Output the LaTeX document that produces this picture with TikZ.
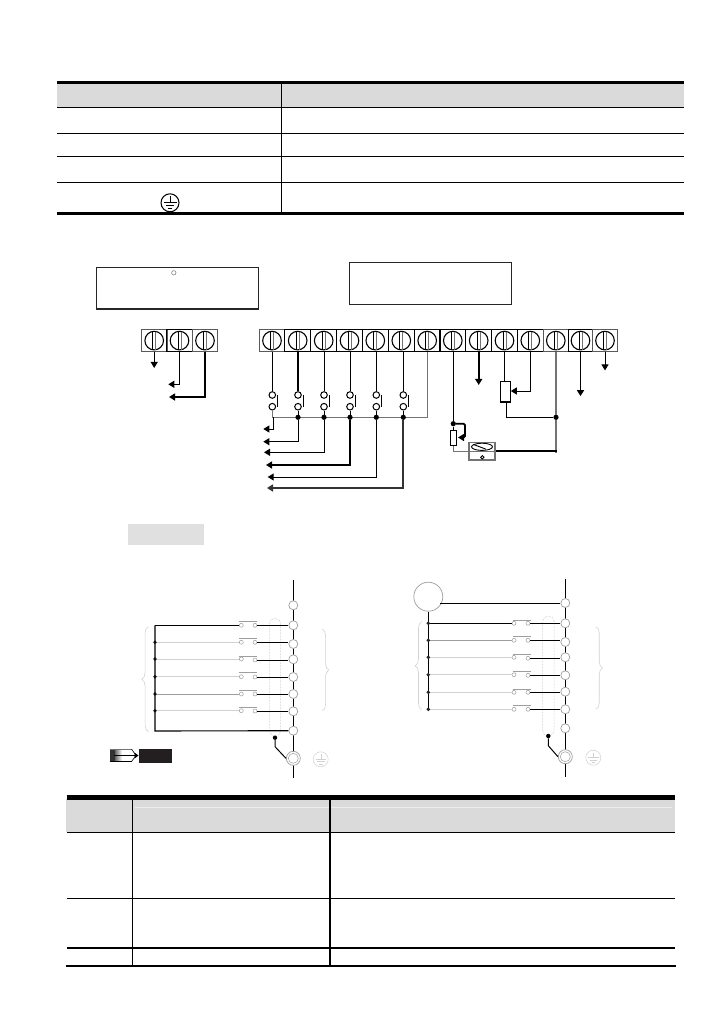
\documentclass[tikz,border=0pt]{standalone}
\usetikzlibrary{arrows.meta,decorations.pathreplacing,calc}
\definecolor{hdr}{gray}{0.855}
\definecolor{lg}{gray}{0.82}
\definecolor{mg}{gray}{0.62}
\definecolor{dg}{gray}{0.45}
\definecolor{ink}{RGB}{35,31,32}
\tikzset{
  rule/.style={line width=#1,black},
  term/.style={draw=black,line width=1pt,inner sep=0,minimum height=22.7pt,
    path picture={
      \draw[line width=1.1pt,black] (path picture bounding box.center) circle (9.3pt);
      \draw[line width=0.8pt,black] ($(path picture bounding box.center)+(-1.5pt,-9pt)$) -- ($(path picture bounding box.center)+(-1.5pt,9pt)$);
      \draw[line width=0.8pt,dg] ($(path picture bounding box.center)+(1.5pt,-9pt)$) -- ($(path picture bounding box.center)+(1.5pt,9pt)$);
    }},
  sw/.style={circle,draw=black,fill=white,line width=1pt,inner sep=0,minimum size=6.6pt},
  dot/.style={circle,fill=black,inner sep=0,minimum size=5.2pt},
  smalldot/.style={circle,fill=black!85,inner sep=0,minimum size=3.8pt},
  wire/.style={line width=1pt,black},
  thick wire/.style={line width=1.8pt,black},
  tip/.style={-{Triangle[length=6pt,width=7pt]}},
  term2/.style={circle,draw=mg,fill=white,line width=0.7pt,inner sep=0,minimum size=9pt},
  small/.style={circle,draw=mg,fill=white,line width=0.5pt,inner sep=0,minimum size=4pt},
  bar/.style={line width=0.5pt,mg},
  capsule/.style={draw=mg!80,densely dotted,line width=0.5pt,rounded corners=5.5pt},
  bracel/.style={draw=lg,line width=0.6pt,decorate,decoration={brace,amplitude=6.5pt}},
  labelbox/.style={draw=black!85,line width=1.2pt},
  gsym/.style={circle,draw=lg,line width=0.5pt,inner sep=0,minimum size=15pt},
}
\begin{document}
\begin{tikzpicture}[x=1pt,y=-1pt]
\useasboundingbox (0,0) rectangle (726,1032);
% ---- top table
\fill[hdr] (57,84) rectangle (684,107);
\draw[rule=3.2pt] (57,82.5) -- (684,82.5);
\draw[rule=1pt] (57,107.3) -- (684,107.3);
\draw[rule=1pt] (57,133.3) -- (684,133.3);
\draw[rule=1pt] (57,156.3) -- (684,156.3);
\draw[rule=1pt] (57,182.6) -- (684,182.6);
\draw[rule=3pt] (57,213.5) -- (684,213.5);
\draw[rule=1pt] (281.5,84) -- (281.5,212);
\node[circle,draw=black,line width=1pt,inner sep=0,minimum size=18pt,fill=white] (gnd) at (170,202.8) {};
\draw[line width=0.8pt] (170,196.5) -- (170,202) (163.5,202) -- (176.5,202) (166,205.2) -- (174,205.2) (168,208.2) -- (172,208.2);
% ---- label boxes
\node[labelbox,minimum width=162pt,minimum height=41.7pt,inner sep=0] (boxL) at (177.4,288.2) {};
\node[labelbox,minimum width=162.4pt,minimum height=42.4pt,inner sep=0] (boxR) at (430.6,283.5) {};
\node[circle,draw=dg,line width=0.5pt,inner sep=0,minimum size=4.4pt] (deg) at (173.8,272.8) {};
% ---- left strip
\foreach \n/\x/\c in {a1/154.2/black!65,a2/179.5/black,a3/205/black!65}
  \node[term,draw=\c,minimum width=25.6pt] (\n) at (\x,340.6) {};
\draw[wire,tip] (a1.south) -- ++(0,15.5);
\coordinate (e2) at (168.3,384.3);
\coordinate (e3) at (169,397);
\draw[wire,tip] (a2.south) |- (e2);
\draw[thick wire,tip] (a3.south) |- (e3);
% ---- main strip
\foreach \n/\x/\w/\c in {1/272/25.4/black!65,2/297.7/26/black,3/323.7/26/black,4/349.5/25.6/black,5/375.3/26/black,6/401.3/26/black,7/427.2/25.7/black,8/452.8/25.7/black,9/478.7/26/black,10/504.5/25.6/black,11/530.3/26/black,12/555.8/25/black!65,13/580.5/24.4/black,14/605/24.6/black!65}
  \node[term,draw=\c,minimum width=\w pt] (t\n) at (\x,340.6) {};
% switches
\foreach \i/\x/\l in {1/272.3/1pt,2/298/1.8pt,3/324/1pt,4/350/1pt,5/376.3/1pt,6/403.3/1pt}{
  \node[sw] (su\i) at (\x,395) {};
  \node[sw] (sd\i) at (\x,406.7) {};
  \draw[line width=\l,black] (su\i |- t\i.south) -- (su\i);
  \draw[wire] (\x+5,395) -- (\x+5,407);
}
\coordinate (bus) at (272.3,417.3);
\draw[line width=1pt,dg] (t7.south) |- (bus) -- (sd1);
\foreach \i/\x in {2/298,3/324,4/350,5/376.3,6/403.3}{
  \node[dot] (j\i) at (\x,417.3) {};
  \draw[wire] (sd\i) -- (j\i);
}
\coordinate (o1) at (263.3,429);
\coordinate (o2) at (263.3,441.7);
\coordinate (o3) at (264,452.3);
\coordinate (o4) at (266,465);
\coordinate (o5) at (267.7,477);
\coordinate (o6) at (267,488);
\draw[wire,tip] (273.3,417.3) |- (o1);
\draw[wire,tip] (j2) |- (o2);
\draw[wire,tip] (j3) |- (o3);
\draw[thick wire,tip] (j4) |- (o4);
\draw[wire,tip] (j5) |- (o5);
\draw[thick wire,black!80,tip] (j6) |- (o6);
% right side of main strip
\node[dot] (jA) at (453.3,423.7) {};
\node[draw=black,line width=1.1pt,fill=white,minimum width=6.4pt,minimum height=14.7pt,inner sep=0] (rA) at (453.5,437.7) {};
\node[draw=dg,line width=1.2pt,fill=white,minimum width=26pt,minimum height=17.3pt,inner sep=0] (meter) at (482,451.3) {};
\draw[line width=1pt,dg] (meter.west) -- (meter.east);
\draw[line width=0.9pt] (482,446.8) ellipse (10.5pt and 3.6pt);
\draw[line width=0.9pt] (473.5,444.5) -- (486,449.2);
\node[circle,draw=black,line width=0.9pt,inner sep=0,minimum size=3.4pt] (zero) at (482.3,457.3) {};
\draw[wire] (jA |- t8.south) -- (jA);
\draw[wire] (jA) -- (jA |- rA.north);
\coordinate (arrA) at (458,437.5);
\draw[thick wire,tip,rounded corners=1.5pt] (jA) -- ++(11.7,0) |- (arrA);
\draw[wire,dg] (rA.south) |- (meter.west);
\node[dot] (jB) at (556,417.3) {};
\draw[line width=1.1pt,dg] (jB |- t12.south) -- (jB);
\draw[line width=1.1pt,dg] (jB) -- (556,452.7);
\draw[thick wire] (meter.east) -- (556.5,451.3);
\draw[thick wire,tip] (t9.south) -- ++(0,32.5);
\node[draw=black,line width=1.1pt,fill=white,minimum width=9.6pt,minimum height=20.3pt,inner sep=0] (rB) at (505.5,391.8) {};
\draw[wire] (t10.south) -- (t10.south |- rB.north);
\coordinate (arrB) at (510.8,391);
\draw[wire,tip] (t11.south) |- (arrB);
\draw[wire] (506.7,402) |- (jB);
\draw[thick wire,tip] (t13.south) -- ++(0,43.7);
\draw[wire,tip] (t14.south) -- ++(0,18);
% ---- grey note
\fill[black!12] (128,524) rectangle (204,545);
% ---- left schematic
\coordinate (L0) at (293.3,580);
\coordinate (L1) at (293.3,778);
\draw[line width=1pt] (L0) -- (L1);
\draw[capsule] (269.3,736) -- (269.3,618.3) -- (280.7,618.3) -- (280.7,736) -- cycle;
\foreach \i/\y in {1/605.3,2/625.3,3/644,4/659.3,5/677,6/694,7/711.3,8/730.7}
  \node[term2] (lt\i) at (293.3,\y) {};
\foreach \i/\y/\c/\b/\yr in {2/625.3/black/621.7/625.3,3/642.3/lg/638.3/642.3,4/659/lg/656/660,5/676.7/lg/672.7/677,6/694/mg/690/694,7/710.7/lg/707.3/711}{
  \node[small] (la\i) at (241.3,\y) {};
  \node[small] (lb\i) at (255,\yr) {};
  \coordinate (lc\i) at (155,\y);
  \draw[line width=0.8pt,\c] (lc\i) -- (la\i);
  \draw[bar] (239.3,\b) -- (257.3,\b);
  \draw[wire] (lb\i) -- (lb\i -| lt\i.west);
}
\foreach \i in {3,4,5,6,7} \node[smalldot] at (lc\i) {};
\coordinate (lc8) at (155,731);
\draw[wire,line width=1.1pt] (lc2) -- (lc8) -- (lt8.west);
\draw[bracel] (148.3,731.7) -- (148.3,626.7);
\draw[bracel] (322.3,629) -- (322.3,711);
\node[dot,minimum size=4.4pt] (ld) at (275,737.7) {};
\node[circle,draw=mg,fill=white,line width=0.7pt,inner sep=0,minimum size=14pt] (lg1) at (293.3,758.3) {};
\node[circle,draw=mg,line width=0.5pt,inner sep=0,minimum size=10pt] at (293.3,758.3) {};
\draw[line width=1pt] (ld) -- (275,746.7) -- (lg1.west);
\node[gsym] (lg2) at (320.7,759.3) {};
\draw[line width=0.4pt,lg] (320.7,754) -- (320.7,759) (315.5,759) -- (326,759) (317,761.5) -- (324.5,761.5) (319,764) -- (322.5,764);
% note icon
\fill[black!80] (109.5,749) rectangle (115,761.5);
\shade[left color=black!60,right color=white] (115,749) rectangle (122,761.5);
\draw[line width=0.7pt,dg] (109.5,749) -- (132,749);
\draw[line width=1pt] (109.5,761.5) -- (132,761.5) (114,755.5) -- (135,755.5);
\draw[line width=0.6pt] (131.5,749) -- (136,755.5) -- (131.5,761.5);
\fill (134.5,752.5) -- (138.5,755.5) -- (134.5,758.5) -- cycle;
\fill[ink] (139,749.3) rectangle (171.7,762.7);
% ---- right schematic
\coordinate (R0) at (565.3,579.3);
\coordinate (R1) at (565.3,776.7);
\draw[line width=1pt] (R0) -- (R1);
\draw[capsule] (542.7,736) -- (542.7,616) -- (554,616) -- (554,736) -- cycle;
\foreach \i/\y in {1/603,2/623.3,3/642,4/657.3,5/675.3,6/691.7,7/709.3,8/728.3}
  \node[term2] (rt\i) at (565.3,\y) {};
\node[circle,draw=mg,fill=white,line width=0.7pt,inner sep=0,minimum size=29pt] (src) at (428.3,596.7) {};
\draw[wire] (440,603) -- (rt1.west);
\coordinate (rc1) at (428.3,709.3);
\draw[line width=1.1pt] (src.south) -- (rc1);
\foreach \i/\y/\c/\b/\yr in {2/623.3/black/620.5/623.3,3/640.3/mg/636.5/640.3,4/657.3/lg/654.7/658.3,5/674.7/lg/671.7/675.3,6/692.3/lg/689/692.3,7/709.3/lg/705.7/709.3}{
  \node[small] (ra\i) at (514,\y) {};
  \node[small] (rb\i) at (528,\yr) {};
  \coordinate (rc\i) at (428.3,\y);
  \draw[line width=0.8pt,\c] (rc\i) -- (ra\i);
  \draw[bar] (512.7,\b) -- (530.7,\b);
  \draw[wire] (rb\i) -- (rb\i -| rt\i.west);
  \node[smalldot] at (rc\i) {};
}
\draw[bracel] (421.7,710) -- (421.7,621.7);
\draw[bracel] (596,626.7) -- (596,709.3);
\node[dot,minimum size=4.4pt] (rd) at (548.3,736) {};
\node[circle,draw=mg,fill=white,line width=0.7pt,inner sep=0,minimum size=14pt] (rg1) at (565.3,756.7) {};
\node[circle,draw=mg,line width=0.5pt,inner sep=0,minimum size=10pt] at (565.3,756.7) {};
\draw[line width=1pt] (rd) -- (548.3,745.7) -- (rg1.west);
\node[gsym] (rg2) at (593.3,757.7) {};
\draw[line width=0.4pt,lg] (593.3,752.5) -- (593.3,757.5) (588,757.5) -- (598.5,757.5) (589.5,760) -- (597,760) (591.5,762.5) -- (595,762.5);
% ---- bottom table
\fill[hdr] (66,799) rectangle (675,832);
\draw[line width=0.6pt,black!7] (135,807) -- (672,807);
\draw[rule=4.5pt] (67,797.3) -- (675,797.3);
\draw[rule=1.1pt] (67,832.5) -- (675,832.5);
\draw[rule=1.1pt] (67,898.3) -- (675,898.3);
\draw[rule=2pt] (67,948) -- (675,948);
\draw[rule=2pt] (65.5,966) -- (676,966);
\draw[rule=1pt] (132.3,799) -- (132.3,966);
\draw[rule=1.5pt] (330,799) -- (330,966);
\end{tikzpicture}
\end{document}
